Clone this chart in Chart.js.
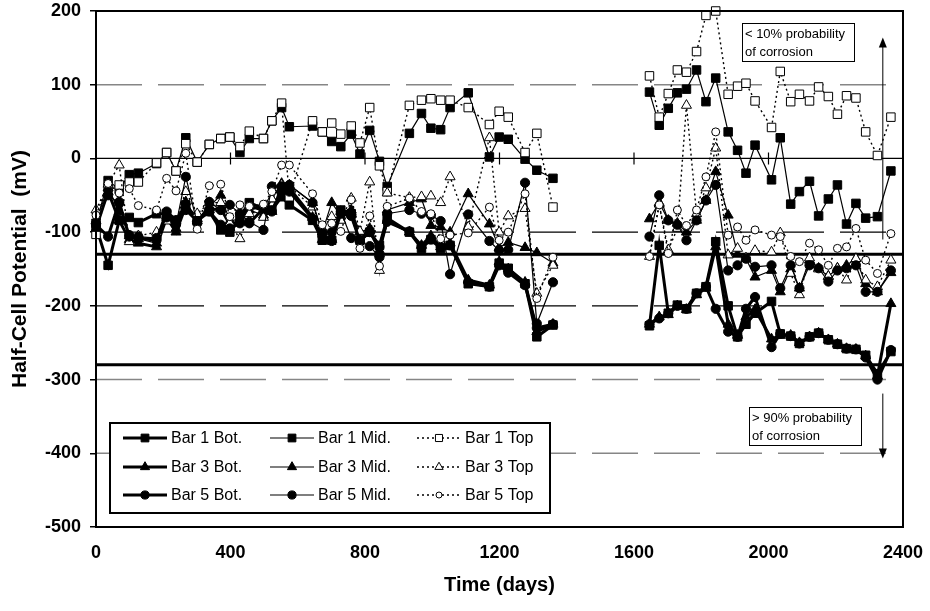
<!DOCTYPE html>
<html>
<head>
<meta charset="utf-8">
<title>Half-Cell Potential vs Time</title>
<script src="https://cdn.jsdelivr.net/npm/chart.js@4.4.0/dist/chart.umd.min.js"></script>
<style>
  html, body { margin: 0; padding: 0; background: #fff; }
  canvas { display: block; }
</style>
</head>
<body>
<canvas id="potentialChart" width="930" height="611"></canvas>
<script>
// measurement days (two campaigns, gap in between)
const days = [
  0, 36, 69, 99, 126, 180, 210, 238, 267, 301, 337, 371, 398, 428, 456, 498, 523, 552, 575, 644,
  673, 701, 728, 759, 785, 814, 843, 866, 932, 968, 996, 1025, 1053, 1107, 1170, 1199, 1226, 1276, 1311, 1359,
  1646, 1675, 1702, 1729, 1756, 1786, 1814, 1843, 1880, 1908, 1933, 1960, 2009, 2035, 2066, 2092, 2122,
  2149, 2178, 2205, 2232, 2260, 2289, 2324, 2364
];

const bar1Bot = [
  -92, -145, -84, -80, -87, -75, -75, -84, -63, -82, -72, -97, -100, -79, -60, -68, -70, -52, -63, -84,
  -111, -111, -70, -75, -111, -100, -118, -81, -100, -122, -110, -122, -118, -170, -174, -142, -149, -170, -242, -226,
  -227, -118, -210, -199, -204, -183, -174, -113, -200, -242, -225, -210, -194, -238, -241, -251, -242,
  -237, -246, -252, -258, -259, -267, -292, -262
];
const bar1Mid = [
  -88, -30, -42, -22, -20, -7, 8, -17, 28, -5, 19, 27, 29, 8, 27, 27, 51, 69, 43, 44,
  36, 23, 16, 33, 6, 38, -4, -38, 34, 61, 41, 39, 69, 89, 2, 29, 26, -1, -16, -27,
  90, 45, 68, 89, 94, 120, 77, 109, 36, 11, -20, 18, -29, 28, -62, -45, -31,
  -78, -55, -36, -89, -61, -81, -79, -17
];
const bar1Top = [
  -103, -40, -36, -32, -32, -6, 8, -17, 20, -5, 19, 27, 29, 16, 37, 27, 51, 75, -52, 51,
  36, 48, 33, 44, 21, 69, -10, -45, 72, 79, 81, 79, 79, 69, 46, 64, 56, 8, 34, -66,
  112, 56, 88, 120, 117, 145, 194, 200, 87, 98, 102, 78, 42, 118, 77, 87, 78,
  97, 84, 60, 85, 82, 36, 4, 56
];
const bar3Bot = [
  -95, -45, -84, -110, -115, -120, -80, -100, -65, -82, -70, -68, -90, -85, -65, -70, -72, -40, -40, -80,
  -110, -110, -72, -72, -110, -98, -125, -84, -100, -118, -105, -120, -115, -165, -172, -140, -150, -168, -235, -225,
  -225, -215, -212, -200, -205, -185, -176, -120, -225, -240, -215, -205, -245, -240, -240, -250, -242,
  -237, -246, -252, -258, -259, -268, -295, -197
];
const bar3Mid = [
  -85, -40, -72, -105, -109, -115, -78, -95, -59, -85, -65, -50, -85, -82, -70, -77, -55, -34, -36, -60,
  -100, -60, -78, -70, -100, -95, -129, -70, -60, -55, -91, -93, -100, -48, -89, -121, -114, -121, -128, -142,
  -82, -60, -84, -88, -100, -84, -57, -18, -77, -130, -136, -161, -152, -181, -150, -176, -138,
  -149, -160, -149, -145, -136, -170, -181, -155
];
const bar3Top = [
  -70, -35, -9, -113, -105, -100, -85, -85, -45, -75, -60, -60, -88, -109, -75, -80, -55, -36, -38, -66,
  -95, -79, -84, -54, -99, -32, -152, -47, -53, -52, -51, -60, -25, -93, 28, -100, -78, -68, -183, -145,
  -133, -62, -124, -95, 72, -75, -40, 14, -131, -122, -135, -125, -127, -101, -156, -185, -135,
  -150, -160, -149, -165, -136, -165, -174, -138
];
const bar5Bot = [
  -90, -106, -59, -106, -108, -111, -72, -84, -70, -85, -72, -90, -95, -88, -88, -68, -72, -45, -45, -82,
  -105, -112, -75, -78, -112, -100, -120, -86, -99, -120, -110, -120, -118, -168, -174, -145, -155, -172, -230, -225,
  -225, -217, -210, -200, -204, -183, -174, -204, -235, -242, -204, -188, -256, -238, -241, -251, -242,
  -237, -246, -252, -258, -259, -270, -300, -260
];
const bar5Mid = [
  -88, -50, -61, -104, -106, -108, -80, -90, -25, -88, -59, -70, -63, -75, -86, -97, -38, -38, -36, -60,
  -100, -100, -72, -108, -112, -119, -134, -75, -70, -75, -77, -85, -157, -76, -112, -125, -124, -33, -224, -168,
  -106, -50, -84, -90, -111, -84, -57, -36, -152, -145, -136, -147, -145, -176, -145, -176, -145,
  -149, -167, -152, -149, -145, -181, -181, -152
];
const bar5Top = [
  -77, -34, -47, -41, -64, -70, -27, -44, 7, -96, -37, -35, -79, -63, -65, -62, -45, -9, -9, -48,
  -90, -88, -99, -56, -122, -78, -146, -65, -54, -72, -75, -109, -104, -101, -66, -111, -100, -48, -190, -134,
  -133, -63, -129, -70, -91, -70, -25, 36, -104, -93, -111, -97, -104, -106, -133, -140, -115,
  -124, -145, -122, -120, -95, -138, -156, -102
];

const seriesNames = ['Bar 1 Bot.', 'Bar 1 Mid.', 'Bar 1 Top', 'Bar 3 Bot.', 'Bar 3 Mid.', 'Bar 3 Top',
  'Bar 5 Bot.', 'Bar 5 Mid.', 'Bar 5 Top'];
const seriesValues = [bar1Bot, bar1Mid, bar1Top, bar3Bot, bar3Mid, bar3Top, bar5Bot, bar5Mid, bar5Top];

// reference levels (mV)
const gridLevels = [100, -100, -200, -300, -400];
const darkGridLevels = [-100, -200];
const limitLevels = [-130, -280];
const xTickMarks = [400, 800, 1200, 1600, 2000];

const FONT = '"Liberation Sans", Arial, sans-serif';

function shapeOf(name) {
  if (name.startsWith('Bar 1')) return 'rect';
  if (name.startsWith('Bar 3')) return 'triangle';
  return 'circle';
}
function radiusOf(shape, open) {
  if (shape === 'rect') return 6;
  if (shape === 'triangle') return 5.8;
  return open ? 4 : 4.6;
}
function lineStyle(name) {
  if (name.includes('Bot')) return { width: 3, dash: [] };
  if (name.includes('Mid')) return { width: 1.2, dash: [] };
  return { width: 1.4, dash: [2, 3] };
}

const datasets = seriesNames.map((name, i) => {
  const shape = shapeOf(name);
  const open = name.includes('Top');
  const ls = lineStyle(name);
  return {
    label: name,
    data: days.map((d, k) => ({ x: d, y: seriesValues[i][k] })).filter(p => p.y !== null),
    borderColor: '#000',
    borderWidth: ls.width,
    borderDash: ls.dash,
    pointStyle: shape,
    pointRadius: radiusOf(shape, open),
    pointBackgroundColor: open ? '#fff' : '#000',
    pointBorderColor: '#000',
    pointBorderWidth: 1,
    fill: false,
    tension: 0,
    spanGaps: 150,
    clip: false,
    order: -i
  };
});

function drawMarker(ctx, shape, x, y, r, open) {
  ctx.beginPath();
  if (shape === 'rect') {
    const s = r * Math.SQRT1_2;
    ctx.rect(x - s, y - s, 2 * s, 2 * s);
  } else if (shape === 'triangle') {
    for (let k = 0; k < 3; k++) {
      const a = k * 2 * Math.PI / 3;
      const px = x + Math.sin(a) * r, py = y - Math.cos(a) * r;
      if (k === 0) ctx.moveTo(px, py); else ctx.lineTo(px, py);
    }
    ctx.closePath();
  } else {
    ctx.arc(x, y, r, 0, Math.PI * 2);
  }
  ctx.setLineDash([]);
  ctx.fillStyle = open ? '#fff' : '#000';
  ctx.fill();
  ctx.lineWidth = 1;
  ctx.strokeStyle = '#000';
  ctx.stroke();
}

function drawArrow(ctx, x, y0, y1) {
  const dir = y1 < y0 ? -1 : 1;
  ctx.setLineDash([]);
  ctx.lineWidth = 1;
  ctx.strokeStyle = '#000';
  ctx.beginPath();
  ctx.moveTo(x, y0);
  ctx.lineTo(x, y1 - dir * 8);
  ctx.stroke();
  ctx.beginPath();
  ctx.moveTo(x, y1);
  ctx.lineTo(x - 4, y1 - dir * 10);
  ctx.lineTo(x + 4, y1 - dir * 10);
  ctx.closePath();
  ctx.fillStyle = '#000';
  ctx.fill();
}

function drawNote(ctx, x, y, d0, d1, v0, v1, lines) {
  const l = x.getPixelForValue(d0), r = x.getPixelForValue(d1);
  const t = y.getPixelForValue(v0), b = y.getPixelForValue(v1);
  ctx.fillStyle = '#fff';
  ctx.fillRect(l, t, r - l, b - t);
  ctx.setLineDash([]);
  ctx.lineWidth = 1;
  ctx.strokeStyle = '#000';
  ctx.strokeRect(Math.round(l) + 0.5, Math.round(t) + 0.5, Math.round(r - l), Math.round(b - t));
  ctx.fillStyle = '#000';
  ctx.font = '13px ' + FONT;
  ctx.textAlign = 'left';
  ctx.textBaseline = 'middle';
  lines.forEach((s, k) => ctx.fillText(s, l + 3, t + 11 + k * 18));
}

const guides = {
  id: 'guides',
  beforeDatasetsDraw(chart) {
    const { ctx, chartArea: a, scales: { x, y } } = chart;
    ctx.save();
    ctx.beginPath();
    ctx.rect(a.left, a.top, a.right - a.left, a.bottom - a.top);
    ctx.clip();
    gridLevels.forEach(v => {
      const dark = darkGridLevels.includes(v);
      ctx.strokeStyle = dark ? '#000' : '#868686';
      ctx.lineWidth = dark ? 1.2 : 1.6;
      ctx.setLineDash([46, 16]);
      const py = y.getPixelForValue(v);
      ctx.beginPath();
      ctx.moveTo(a.left, py);
      ctx.lineTo(a.right, py);
      ctx.stroke();
    });
    ctx.setLineDash([]);
    // zero axis with tick marks
    const y0 = y.getPixelForValue(0);
    ctx.strokeStyle = '#000';
    ctx.lineWidth = 1.2;
    ctx.beginPath();
    ctx.moveTo(a.left, y0);
    ctx.lineTo(a.right, y0);
    xTickMarks.forEach(d => {
      const px = x.getPixelForValue(d);
      ctx.moveTo(px, y0 - 6);
      ctx.lineTo(px, y0 + 6);
    });
    ctx.stroke();
    // corrosion limits
    ctx.lineWidth = 3;
    limitLevels.forEach(v => {
      const py = y.getPixelForValue(v);
      ctx.beginPath();
      ctx.moveTo(a.left, py);
      ctx.lineTo(a.right, py);
      ctx.stroke();
    });
    ctx.restore();
  },
  afterDatasetsDraw(chart) {
    const { ctx, chartArea: a, scales: { x, y } } = chart;
    ctx.save();
    // notes and arrows
    drawArrow(ctx, x.getPixelForValue(2340), y.getPixelForValue(-110), y.getPixelForValue(164));
    drawArrow(ctx, x.getPixelForValue(2340), y.getPixelForValue(-319), y.getPixelForValue(-407));
    drawNote(ctx, x, y, 1921, 2254, 183.5, 132, ['< 10% probability', 'of corrosion']);
    drawNote(ctx, x, y, 1942, 2275, -337.5, -389, ['> 90% probability', 'of corrosion']);

    // legend
    const box = { left: 110, top: 423, right: 550, bottom: 513 };
    ctx.fillStyle = '#fff';
    ctx.fillRect(box.left, box.top, box.right - box.left, box.bottom - box.top);
    ctx.setLineDash([]);
    ctx.lineWidth = 2;
    ctx.strokeStyle = '#000';
    ctx.strokeRect(box.left, box.top, box.right - box.left, box.bottom - box.top);
    const colX = [123, 270, 417];
    const rowY = [438, 467, 495];
    chart.data.datasets.forEach((ds, i) => {
      const cx = colX[i % 3], cy = rowY[Math.floor(i / 3)];
      const open = ds.label.includes('Top');
      ctx.setLineDash(ds.borderDash);
      ctx.lineWidth = ds.borderWidth;
      ctx.strokeStyle = '#000';
      ctx.beginPath();
      ctx.moveTo(cx, cy);
      ctx.lineTo(cx + 44, cy);
      ctx.stroke();
      drawMarker(ctx, ds.pointStyle, cx + 22, cy, open ? ds.pointRadius - 1 : ds.pointRadius - 0.5, open);
      ctx.fillStyle = '#000';
      ctx.font = '16px ' + FONT;
      ctx.textAlign = 'left';
      ctx.textBaseline = 'middle';
      ctx.fillText(ds.label, cx + 48, cy + 1);
    });

    // plot frame
    ctx.setLineDash([]);
    ctx.lineWidth = 2;
    ctx.strokeStyle = '#000';
    ctx.strokeRect(a.left, a.top, a.right - a.left, a.bottom - a.top);
    ctx.restore();
  }
};

new Chart(document.getElementById('potentialChart'), {
  type: 'line',
  data: { datasets },
  options: {
    responsive: false,
    animation: false,
    events: [],
    layout: { padding: { left: 0, top: 11, right: 27, bottom: 0 } },
    scales: {
      x: {
        type: 'linear',
        min: 0,
        max: 2400,
        ticks: { stepSize: 400, color: '#000', font: { family: FONT, size: 18, weight: 'bold' }, padding: 15, maxRotation: 0, callback: v => String(v) },
        grid: { drawOnChartArea: false, drawTicks: false },
        border: { display: false },
        title: { display: true, text: 'Time (days)', color: '#000', font: { family: FONT, size: 20, weight: 'bold' }, padding: { top: 4, bottom: 14 } },
        afterFit(scale) {
          scale.height = 84;
          scale.paddingLeft = 0;
          scale.paddingRight = 0;
        }
      },
      y: {
        min: -500,
        max: 200,
        ticks: { stepSize: 100, color: '#000', font: { family: FONT, size: 18, weight: 'bold' }, padding: 9, callback: v => String(v) },
        grid: { drawOnChartArea: false, drawTicks: true, tickLength: 6, color: '#000', lineWidth: 1.5 },
        border: { display: false },
        title: { display: true, text: 'Half-Cell Potential  (mV)', color: '#000', font: { family: FONT, size: 21, weight: 'bold' }, padding: { top: 8, bottom: 0 } },
        afterFit(scale) {
          scale.width = 96;
          scale.paddingTop = 0;
          scale.paddingBottom = 0;
        }
      }
    },
    plugins: { legend: { display: false }, tooltip: { enabled: false } }
  },
  plugins: [guides]
});
</script>
</body>
</html>
